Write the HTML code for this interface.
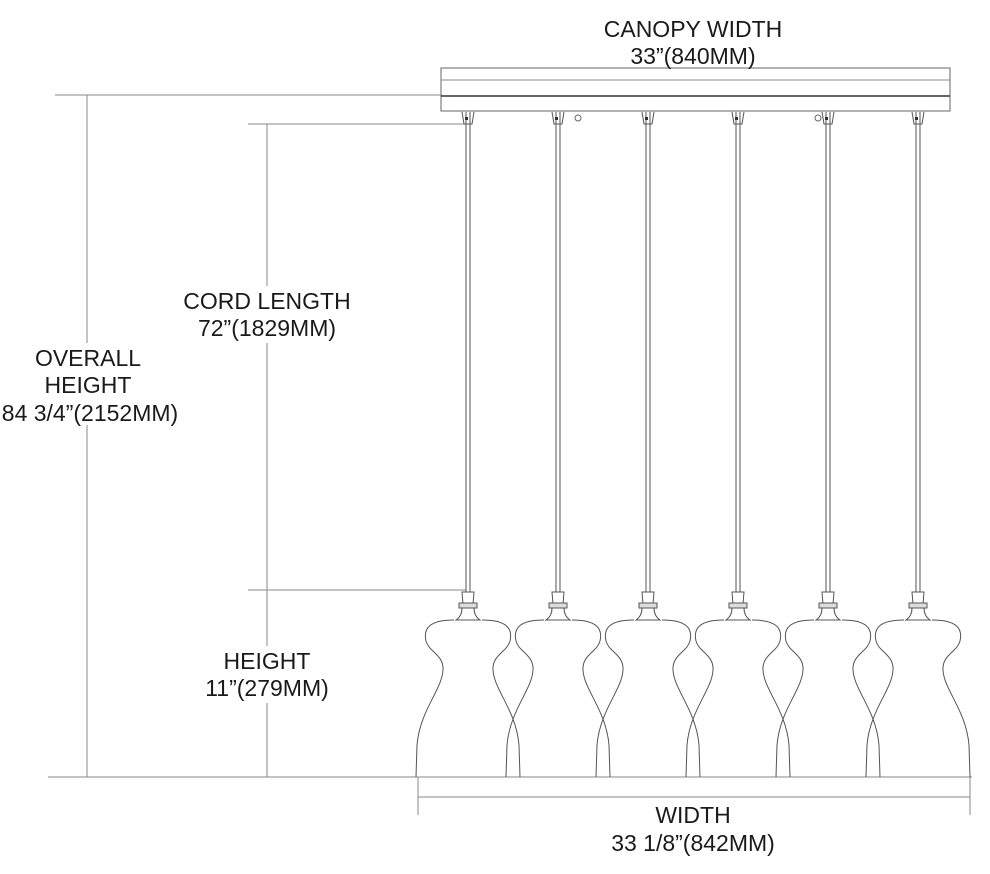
<!DOCTYPE html>
<html><head><meta charset="utf-8"><style>
html,body{margin:0;padding:0;background:#fff}
svg{display:block}
text{font-family:"Liberation Sans",sans-serif;font-size:23px;fill:#1a1a1a;text-anchor:middle}
</style></head><body>
<svg width="990" height="874" viewBox="0 0 990 874" xmlns="http://www.w3.org/2000/svg">
<defs>
<g id="p" fill="none" stroke="#555" stroke-width="1">
<line x1="-2" y1="112" x2="-2" y2="592"/><line x1="2" y1="112" x2="2" y2="592"/>
<path d="M-6,112 L-4,124 L4,124 L6,112" />
<rect x="-3" y="117" width="3" height="3" fill="#333" stroke="none"/>
<path d="M-5,604 L-6,592 L6,592 L5,604" />
<rect x="-9" y="603" width="18" height="5" fill="#ddd"/>
<path d="M-6,608 Q-6,616 -12,620 L12,620 Q6,616 6,608" />
<path d="M-14,620 C-38,620 -45,628 -42,641 C-39,652 -24,655 -25,670 C-26,690 -48,710 -51,745 L-52,777"/>
<path d="M14,620 C38,620 45,628 42,641 C39,652 24,655 25,670 C26,690 48,710 51,745 L52,777"/>
</g>
</defs>
<g stroke="#888" stroke-width="1" fill="none">
<line x1="55" y1="95" x2="441" y2="95"/>
<line x1="87" y1="95" x2="87" y2="777"/>
<line x1="248" y1="124" x2="466" y2="124"/>
<line x1="267" y1="124" x2="267" y2="777"/>
<line x1="248" y1="590" x2="466" y2="590"/>
<line x1="48" y1="777" x2="972" y2="777"/>
<line x1="418" y1="797" x2="970" y2="797"/>
<line x1="418" y1="777" x2="418" y2="815"/>
<line x1="970" y1="777" x2="970" y2="815"/>
</g>
<g fill="none" stroke="#666" stroke-width="1">
<rect x="441" y="68" width="509" height="43"/>
<line x1="441" y1="80" x2="950" y2="80" stroke="#888"/>
<line x1="441" y1="96" x2="950" y2="96" stroke="#333" stroke-width="1.5"/>
<circle cx="578" cy="118" r="3"/>
<circle cx="818" cy="118" r="3"/>
</g>
<use href="#p" x="468"/><use href="#p" x="558"/><use href="#p" x="648"/>
<use href="#p" x="738"/><use href="#p" x="828"/><use href="#p" x="918"/>
<g fill="#fff" stroke="none">
<rect x="170" y="286" width="195" height="57"/>
<rect x="0" y="343" width="185" height="82"/>
<rect x="200" y="646" width="135" height="57"/>
</g>
<text x="693" y="37">CANOPY WIDTH</text>
<text x="693" y="64" fill="#333">33”(840MM)</text>
<text x="267" y="309">CORD LENGTH</text>
<text x="267" y="336" fill="#333">72”(1829MM)</text>
<text x="88" y="366">OVERALL</text>
<text x="88" y="393">HEIGHT</text>
<text x="90" y="421" fill="#333">84 3/4”(2152MM)</text>
<text x="267" y="669">HEIGHT</text>
<text x="267" y="696" fill="#333">11”(279MM)</text>
<text x="693" y="823">WIDTH</text>
<text x="693" y="851" fill="#333">33 1/8”(842MM)</text>
</svg>
</body></html>
